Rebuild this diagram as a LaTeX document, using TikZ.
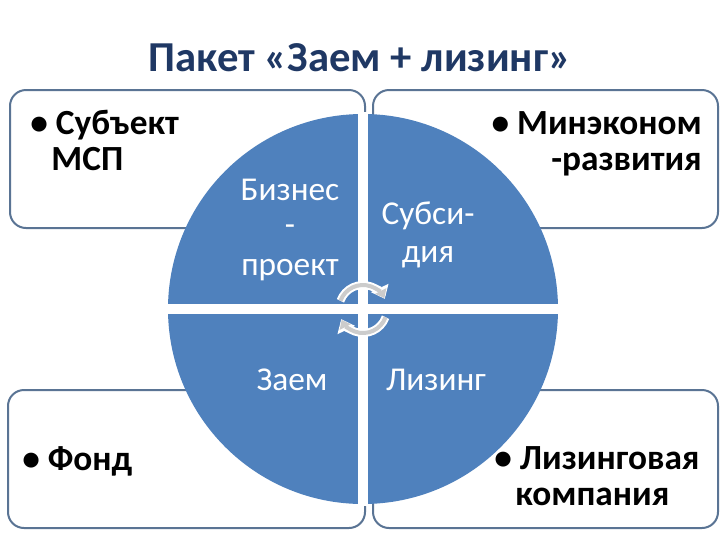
\documentclass[tikz,border=0pt]{standalone}
\usepackage{fontspec}
\setmainfont{Carlito}
\usetikzlibrary{arrows.meta}
\definecolor{qblue}{HTML}{4F81BD}
\definecolor{tblue}{HTML}{1F3864}
\definecolor{bord}{HTML}{5A7494}
\begin{document}
\begin{tikzpicture}[x=0.75pt,y=-0.75pt,
 box/.style={draw=bord,line width=1.5pt,rounded corners=12pt,fill=white},
 btxt/.style={font=\bfseries\fontsize{26.5}{27}\selectfont,align=left,inner sep=0pt},
 ctxt/.style={font=\fontsize{25}{26}\selectfont,text=white,align=center,inner sep=0pt},
 rot/.style={draw=white,line width=6pt},
 roti/.style={draw=black!20,line width=3pt}]
\useasboundingbox (0,0) rectangle (720,540);
\fill[white] (0,0) rectangle (720,540);
\node[font=\bfseries\fontsize{32}{36}\selectfont,text=tblue] (title) at (360,58) {Пакет «Заем + лизинг»};
\draw[box] (10,90) rectangle (365,228);
\draw[box] (373,90) rectangle (718,228);
\draw[box] (8,390) rectangle (365,528);
\draw[box] (373,390) rectangle (718,528);
\coordinate (c) at (363,309);
\fill[qblue] (c) circle [radius=195];
\fill[white] (358,112) rectangle (368,506);
\fill[white] (166,304) rectangle (560,314);
\node[btxt,anchor=base west] (t1) at (30,170) {• Субъект\\\hspace*{0.6em}МСП};
\node[btxt,anchor=base east,align=right] (t2) at (702,170) {• Минэконом\\-развития};
\node[btxt,anchor=base west] (t3) at (22,470) {• Фонд};
\node[btxt,anchor=base west] (t4) at (494,505) {• Лизинговая\\\hspace*{0.6em}компания};
\node[ctxt,anchor=base] (q1) at (290,275) {Бизнес\\[0pt]-\\[4pt]проект};
\node[ctxt,anchor=base] (q2) at (428,262) {Субси-\\[2pt]дия};
\node[ctxt,anchor=base] (q3) at (292,390) {Заем};
\node[ctxt,anchor=base] (q4) at (436,390) {Лизинг};
% circular arrows
\draw[rot,-{Triangle[length=9pt,width=14pt]}] ([shift={(-160:24)}]c) arc[start angle=-160,end angle=-25,radius=24];
\draw[roti,-{Triangle[length=6pt,width=9pt]}] ([shift={(-160:24)}]c) arc[start angle=-160,end angle=-27,radius=24];
\draw[rot,-{Triangle[length=9pt,width=14pt]}] ([shift={(20:24)}]c) arc[start angle=20,end angle=155,radius=24];
\draw[roti,-{Triangle[length=6pt,width=9pt]}] ([shift={(20:24)}]c) arc[start angle=20,end angle=153,radius=24];
\end{tikzpicture}
\end{document}
